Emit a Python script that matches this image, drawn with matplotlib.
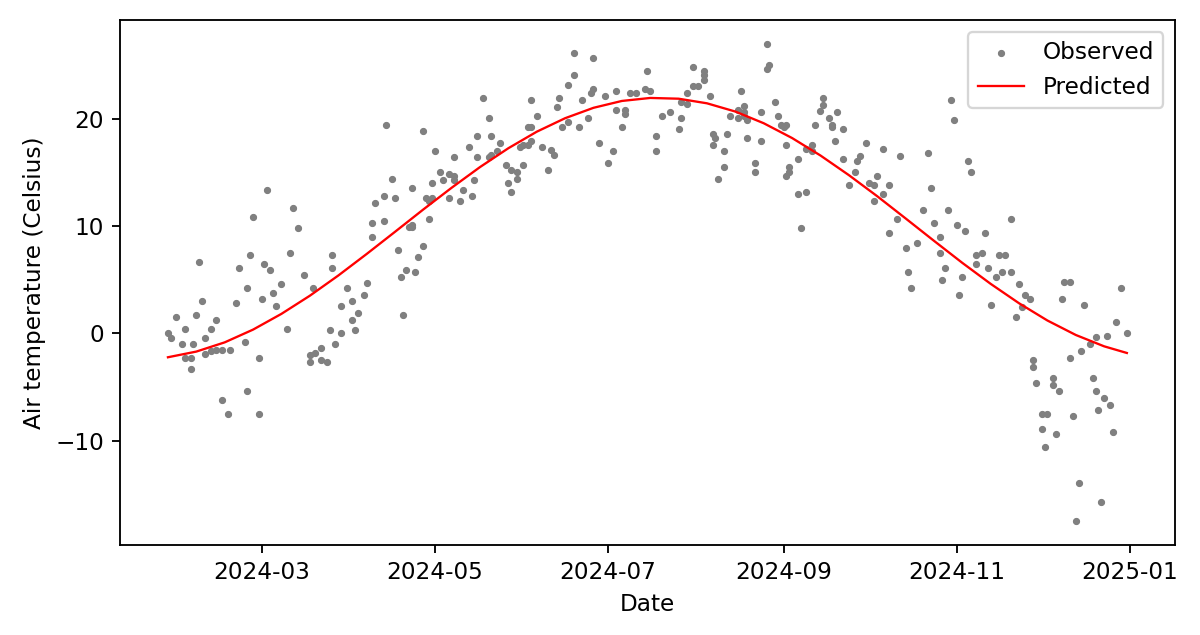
import matplotlib
matplotlib.use("Agg")
import matplotlib.pyplot as plt
import matplotlib.dates as mdates
import numpy as np
import pandas as pd

# daily air temperature observations, day of year 2024 (1 = Jan 1)
obs_day = [
    28, 29, 31, 33, 34, 34, 36, 36, 37, 38,
    39, 40, 41, 41, 43, 43, 45, 45, 47, 47,
    49, 50, 52, 53, 55, 56, 56, 57, 58, 60,
    60, 61, 62, 63, 64, 65, 66, 68, 70, 71,
    72, 74, 76, 78, 78, 79, 80, 82, 82, 84,
    85, 86, 86, 87, 89, 89, 91, 93, 93, 94,
    95, 97, 98, 100, 100, 101, 104, 104, 105, 107,
    108, 109, 110, 111, 112, 113, 114, 114, 114, 115,
    116, 118, 118, 119, 120, 120, 121, 121, 122, 124,
    125, 127, 127, 129, 129, 129, 131, 132, 134, 135,
    136, 137, 137, 139, 141, 141, 142, 142, 144, 145,
    147, 148, 149, 149, 151, 151, 152, 153, 153, 155,
    155, 156, 156, 156, 158, 160, 162, 163, 164, 165,
    166, 167, 169, 169, 171, 171, 173, 174, 176, 177,
    178, 178, 180, 182, 183, 185, 186, 186, 188, 189,
    189, 191, 193, 196, 197, 198, 200, 200, 202, 205,
    208, 209, 209, 211, 211, 213, 213, 215, 217, 217,
    217, 219, 220, 220, 221, 222, 224, 224, 225, 226,
    229, 229, 230, 231, 231, 231, 232, 232, 235, 235,
    237, 237, 239, 239, 240, 242, 243, 244, 245, 246,
    246, 246, 247, 247, 250, 250, 251, 253, 253, 255,
    255, 256, 258, 259, 259, 261, 262, 262, 263, 264,
    266, 266, 268, 270, 271, 272, 274, 275, 277, 277,
    278, 280, 280, 282, 282, 285, 286, 288, 289, 290,
    292, 294, 296, 297, 298, 300, 300, 301, 302, 303,
    304, 305, 306, 307, 308, 309, 310, 311, 313, 313,
    315, 316, 317, 318, 320, 321, 322, 323, 325, 325,
    327, 328, 329, 330, 332, 333, 333, 334, 336, 336,
    337, 338, 340, 340, 341, 342, 343, 344, 346, 346,
    347, 348, 349, 350, 351, 353, 354, 355, 355, 356,
    357, 358, 359, 360, 361, 362, 364, 366,
]
obs_temp = [
    0.0, -0.4, 1.5, -1.0, -2.3, 0.4, -2.3, -3.3, -1.0, 1.7,
    6.7, 3.0, -0.4, -1.9, 0.4, -1.6, 1.3, -1.5, -1.5, -6.2,
    -7.5, -1.5, 2.8, 6.1, -0.8, -5.4, 4.2, 7.3, 10.9, -7.5,
    -2.3, 3.2, 6.5, 13.4, 5.9, 3.8, 2.6, 4.6, 0.4, 7.5,
    11.7, 9.8, 5.5, -2.0, -2.7, 4.2, -1.8, -2.5, -1.4, -2.7,
    0.3, 7.3, 6.1, -1.0, 0.0, 2.6, 4.2, 3.0, 1.3, 0.3,
    1.9, 3.6, 4.7, 10.3, 9.0, 12.2, 10.5, 12.8, 19.5, 14.4,
    12.6, 7.8, 5.3, 1.7, 5.9, 9.9, 10.1, 9.9, 13.6, 5.7,
    7.1, 8.2, 18.9, 12.6, 12.4, 10.7, 12.6, 14.0, 17.0, 15.1,
    14.3, 14.9, 12.6, 16.5, 14.7, 14.3, 12.4, 13.4, 17.4, 12.8,
    14.3, 16.5, 18.4, 22.0, 20.1, 16.5, 18.4, 16.7, 17.0, 17.8,
    15.7, 14.0, 15.3, 13.2, 15.1, 14.4, 17.4, 15.7, 17.6, 17.6,
    19.3, 18.0, 19.3, 21.8, 20.3, 17.4, 15.3, 17.1, 16.7, 21.1,
    22.0, 19.3, 23.2, 19.7, 26.2, 24.1, 19.3, 21.8, 20.1, 22.4,
    25.7, 22.8, 17.8, 22.2, 15.9, 17.0, 22.6, 20.9, 19.3, 20.9,
    20.5, 22.4, 22.4, 22.8, 24.5, 22.6, 18.4, 17.0, 20.3, 20.7,
    19.1, 20.1, 21.6, 21.4, 22.4, 23.1, 24.9, 23.1, 23.7, 24.1,
    24.5, 22.2, 17.6, 18.6, 18.2, 14.4, 15.5, 17.0, 18.6, 20.3,
    20.9, 20.1, 22.6, 21.2, 20.3, 20.7, 19.9, 18.2, 15.9, 15.1,
    18.0, 20.7, 24.7, 27.0, 25.1, 21.6, 20.3, 19.5, 19.3, 19.5,
    17.6, 14.7, 15.5, 15.1, 16.3, 13.0, 9.8, 13.2, 17.2, 17.0,
    17.6, 19.5, 20.8, 21.3, 22.0, 20.1, 19.5, 19.3, 18.0, 20.7,
    19.1, 16.3, 13.9, 15.1, 16.1, 16.6, 17.8, 14.0, 13.9, 12.4,
    14.7, 17.2, 13.0, 13.9, 9.4, 10.7, 16.6, 8.0, 5.7, 4.2,
    8.4, 11.5, 16.8, 13.6, 10.3, 7.5, 9.0, 5.0, 6.1, 11.5,
    21.8, 19.9, 10.1, 3.6, 5.3, 9.6, 16.1, 15.1, 7.3, 6.5,
    7.5, 9.4, 6.1, 2.7, 5.3, 7.3, 5.7, 7.3, 10.7, 5.7,
    1.5, 4.6, 2.5, 3.6, 3.2, -3.1, -2.5, -4.6, -7.5, -8.9,
    -10.6, -7.5, -4.2, -4.8, -9.4, -5.4, 3.2, 4.8, 4.8, -2.3,
    -7.7, -17.5, -14.0, -1.6, 2.7, -1.0, -4.2, -0.3, -5.4, -7.1,
    -15.7, -6.0, -0.2, -6.7, -9.2, 1.1, 4.2, 0.0,
]

# predicted (fitted seasonal curve), read every 10 days
pred_day = [28, 38, 48, 58, 68, 78, 88, 98, 108, 118, 128, 138,
            148, 158, 168, 178, 188, 198, 208, 218, 228, 238, 248,
            258, 268, 278, 288, 298, 308, 318, 328, 338, 348, 358, 366]
pred_temp = [-2.22, -1.69, -0.83, 0.36, 1.83, 3.52, 5.40, 7.41, 9.48,
             11.57, 13.60, 15.53, 17.29, 18.83, 20.09, 21.06, 21.70,
             21.98, 21.91, 21.48, 20.71, 19.62, 18.24, 16.61, 14.78,
             12.81, 10.74, 8.65, 6.59, 4.63, 2.82, 1.21, -0.14, -1.20,
             -1.82]

start = pd.Timestamp("2024-01-01")
obs_dates = start + pd.to_timedelta(np.array(obs_day) - 1, unit="D")
pred_dates = start + pd.to_timedelta(np.array(pred_day) - 1, unit="D")

dpi = 1200 / 7.2
fig, ax = plt.subplots(figsize=(7.2, 635 / dpi), dpi=dpi)

ax.scatter(obs_dates, obs_temp, s=4.5, color="gray", label="Observed")
ax.plot(pred_dates, pred_temp, color="red", linewidth=1, label="Predicted")

ax.xaxis.set_major_locator(mdates.MonthLocator(bymonth=[1, 3, 5, 7, 9, 11]))
ax.xaxis.set_major_formatter(mdates.DateFormatter("%Y-%m"))
ax.set_xlabel("Date")
ax.set_ylabel("Air temperature (Celsius)")
ax.legend(loc="upper right")

plt.subplots_adjust(left=0.1, right=0.979, top=0.968, bottom=0.142)
fig.savefig("out.png", dpi=dpi)
